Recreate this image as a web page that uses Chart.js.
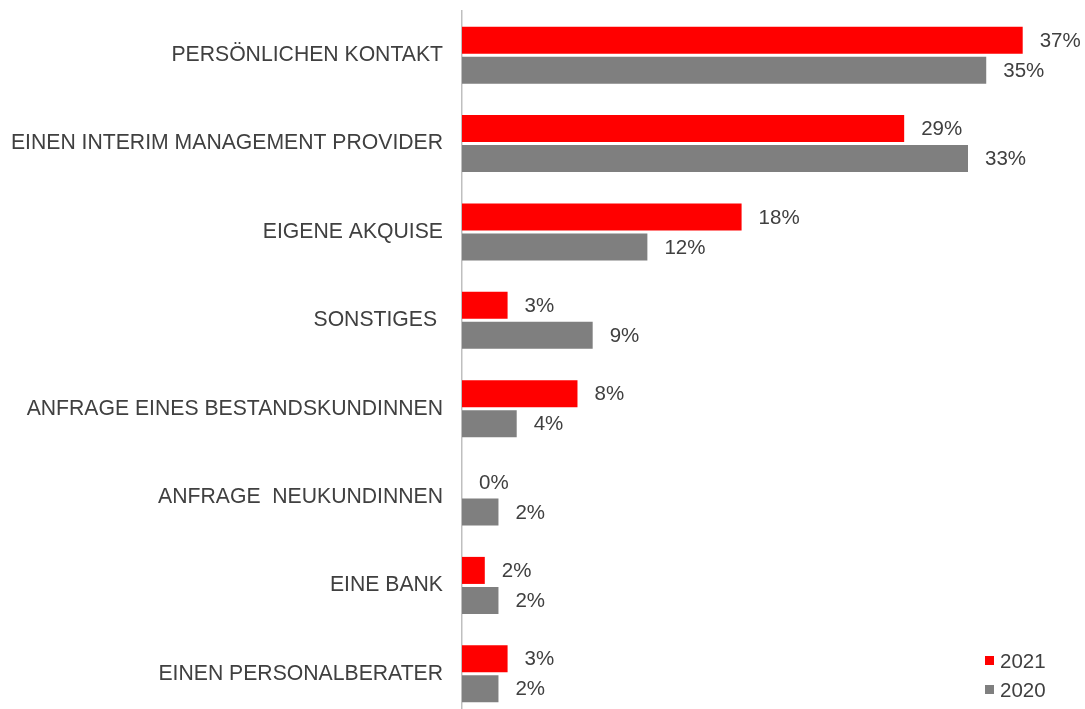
<!DOCTYPE html>
<html>
<head>
<meta charset="utf-8">
<script src="https://cdn.jsdelivr.net/npm/chart.js@4"></script>
<style>
  html, body { margin: 0; padding: 0; background: #fff; overflow: hidden; }
  #wrap { width: 1085px; height: 709px; overflow: hidden; }
  canvas { display: block; }
</style>
</head>
<body>
<div id="wrap"><canvas id="chart" width="1085" height="718"></canvas></div>
<script>
const categories = [
  "PERSÖNLICHEN KONTAKT",
  "EINEN INTERIM MANAGEMENT PROVIDER",
  "EIGENE AKQUISE",
  "SONSTIGES ",
  "ANFRAGE EINES BESTANDSKUNDINNEN",
  "ANFRAGE  NEUKUNDINNEN",
  "EINE BANK",
  "EINEN PERSONALBERATER"
];
const values2021 = [36.9, 29.1, 18.4, 3.0, 7.6, 0, 1.5, 3.0];
const values2020 = [34.5, 33.3, 12.2, 8.6, 3.6, 2.4, 2.4, 2.4];

const textColor = "#404040";
const fontFamily = "'Liberation Sans', Arial, sans-serif";

// value labels at the end of each bar
const barLabels = {
  id: 'barLabels',
  afterDatasetsDraw(chart) {
    const { ctx } = chart;
    ctx.save();
    ctx.font = `20.5px ${fontFamily}`;
    ctx.fillStyle = textColor;
    ctx.textAlign = 'left';
    ctx.textBaseline = 'middle';
    chart.data.datasets.forEach((ds, i) => {
      chart.getDatasetMeta(i).data.forEach((bar, j) => {
        ctx.fillText(`${Math.round(ds.data[j])}%`, bar.x + 17, bar.y + 1);
      });
    });
    ctx.restore();
  }
};

// small vertical legend in the bottom right corner
const cornerLegend = {
  id: 'cornerLegend',
  afterDraw(chart) {
    const { ctx } = chart;
    ctx.save();
    ctx.font = `20.5px ${fontFamily}`;
    ctx.textBaseline = 'middle';
    chart.data.datasets.forEach((ds, i) => {
      const y = 661 + i * 29;
      ctx.fillStyle = ds.backgroundColor;
      ctx.fillRect(985, y - 5, 9, 9);
      ctx.fillStyle = textColor;
      ctx.fillText(ds.label, 1000, y + 1);
    });
    ctx.restore();
  }
};

new Chart(document.getElementById("chart").getContext("2d"), {
  type: 'bar',
  data: {
    labels: categories,
    datasets: [
      { label: "2021", data: values2021, backgroundColor: "#FF0000" },
      { label: "2020", data: values2020, backgroundColor: "#7F7F7F" }
    ]
  },
  plugins: [barLabels, cornerLegend],
  options: {
    indexAxis: 'y',
    responsive: false,
    animation: false,
    layout: { padding: { top: 11, bottom: 0, left: 0, right: 0 } },
    datasets: {
      bar: { categoryPercentage: 0.68, barPercentage: 0.9 }
    },
    plugins: {
      legend: { display: false },
      tooltip: { enabled: false }
    },
    scales: {
      x: { display: false, min: 0, max: 41 },
      y: {
        grid: { display: false, drawTicks: false },
        border: { display: true, color: "#BFBFBF", width: 1.5 },
        ticks: {
          color: textColor,
          font: { family: fontFamily, size: 21.2 },
          padding: 19
        },
        afterFit(scale) {
          scale.width = 462;
          scale.paddingTop = 0;
          scale.paddingBottom = 0;
        }
      }
    }
  }
});
</script>
</body>
</html>
